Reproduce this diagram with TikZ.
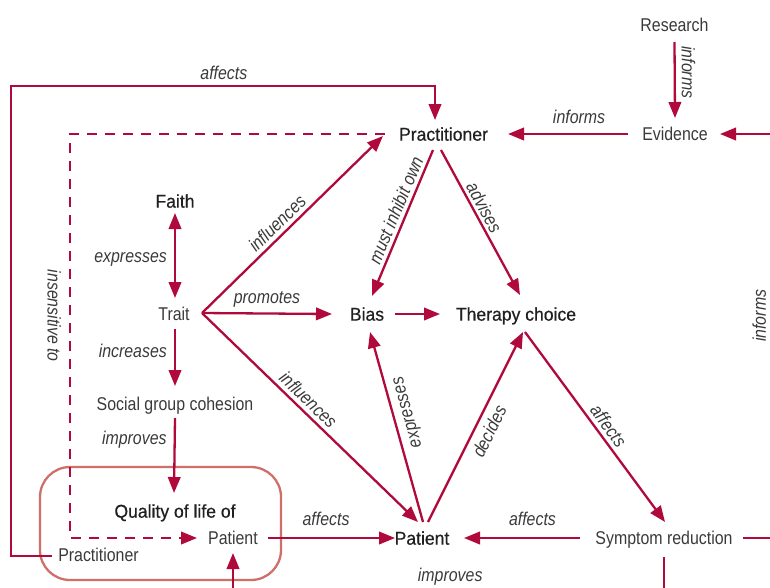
\documentclass[tikz,border=0pt]{standalone}
\usepackage{fontspec}
\setmainfont{Liberation Sans}[FakeStretch=0.86]
\newfontfamily\medfont{Liberation Sans}[FakeStretch=0.95,FakeBold=0.5]
\usetikzlibrary{arrows.meta,calc}
\definecolor{crim}{HTML}{B00A3C}
\definecolor{boxc}{HTML}{CF6F6B}
\definecolor{txtl}{HTML}{3A3A3A}
\definecolor{txtd}{HTML}{202020}
\begin{document}
\begin{tikzpicture}[x=1pt,y=-1pt,
  lt/.style={inner sep=0pt,text height=13.3pt,text depth=0pt,text=txtl,font=\fontsize{18.5}{20}\selectfont},
  md/.style={inner sep=0pt,text height=13.3pt,text depth=0pt,text=txtd,font=\medfont\fontsize{18.5}{20}\selectfont},
  lbl/.style={inner sep=0pt,text height=13.3pt,text depth=0pt,text=txtl,font=\fontsize{18.5}{20}\selectfont\itshape},
  conn/.style={draw=crim,line width=2.3pt,-{Triangle[length=16pt,width=12.5pt]}},
  dconn/.style={conn,dash pattern=on 10pt off 8pt},
  grp/.style={draw=boxc,line width=2.3pt,rounded corners=30pt,minimum width=241pt,minimum height=113pt,inner sep=0pt}
]
\clip (0,0) rectangle (770,587);
% group frame
\node[grp] (group) at (160.5,523.5) {};
% nodes
\node[lt] (research) at (674.5,25) {Research};
\node[lt] (evidence) at (675,134) {Evidence};
\node[md] (prac) at (443.5,134) {Practitioner};
\node[md] (faith) at (175,201) {Faith};
\node[lt] (trait) at (174,314) {Trait};
\node[md] (bias) at (367,314) {Bias};
\node[md] (therapy) at (516,314) {Therapy choice};
\node[lt] (social) at (175,404) {Social group cohesion};
\node[md] (qol) at (175,511) {Quality of life of};
\node[lt] (patbox) at (233,538) {Patient};
\node[lt] (practbl) at (98.5,555) {Practitioner};
\node[md] (patient) at (422,538) {Patient};
\node[lt] (symptom) at (664,538) {Symptom reduction};
\coordinate (rtop) at (782,134);
\coordinate (rbot) at (782,538);
\coordinate (lcorner) at (11,86);
\coordinate (dcorner) at (70,134);
\coordinate (dbot) at (70,538);
\coordinate (bbot) at (664,605);
% connectors
\draw[conn] ($(research)+(0,17)$) -- node[lbl,sloped,above=6pt,pos=0.4]{informs} ($(evidence)+(0,-16)$);
\draw[conn] ($(evidence)+(-47,0)$) -- node[lbl,above=9pt,pos=0.408]{informs} ($(prac)+(64.5,0)$);
\draw[conn] ($(symptom)+(79,0)$) -- (rbot) -- node[lbl,sloped,above=15pt,pos=0.55]{informs} (rtop) -- ($(evidence)+(45,0)$);
\draw[conn] ($(practbl)+(-46.5,1)$) -| (lcorner) -| node[lbl,above=5pt,pos=0.251]{affects} ($(prac)+(-8.5,-14)$);
\draw[dconn] ($(prac)+(-58.5,0)$) -- (dcorner) -- node[lbl,sloped,below=8pt,pos=0.45]{insensitive to} (dbot) -- ($(patbox)+(-36,0)$);
\draw[conn,{Triangle[length=16pt,width=12.5pt]}-{Triangle[length=16pt,width=12.5pt]}] ($(faith)+(0,12)$) -- node[lbl,left=7pt]{expresses} ($(trait)+(1,-16)$);
\draw[conn] ($(trait)+(1,15)$) -- node[lbl,left=7pt,pos=0.38]{increases} ($(social)+(0,-18)$);
\draw[conn] ($(social)+(0,14)$) -- node[lbl,left=7pt,pos=0.27]{improves} ($(qol)+(-1,-18)$);
\draw[conn] ($(trait)+(28,-1)$) -- node[lbl,sloped,above=4pt,pos=0.46]{influences} ($(prac)+(-60.5,2)$);
\draw[conn] ($(trait)+(28,-1)$) -- node[lbl,above=9pt,pos=0.5]{promotes} ($(bias)+(-35,0)$);
\draw[conn] ($(trait)+(28,-1)$) -- node[lbl,sloped,above=4pt,pos=0.455]{influences} ($(patient)+(-4,-16)$);
\draw[conn] ($(bias)+(28,0)$) -- ($(therapy)+(-76,0)$);
\draw[conn] ($(prac)+(-10.5,16)$) -- node[lbl,sloped,above=3.5pt,pos=0.44]{must inhibit own} ($(bias)+(5,-18)$);
\draw[conn] ($(prac)+(-2.5,16)$) -- node[lbl,sloped,above=3pt,pos=0.43]{advises} ($(therapy)+(4,-19)$);
\draw[conn] ($(patient)+(1,-16)$) -- ($(bias)+(3,18)$);
\node[lbl,rotate=105.6] (lexpr) at (405.5,413) {expresses};
\draw[conn] ($(patient)+(6,-16)$) -- node[lbl,sloped,below=6.3pt,pos=0.51]{decides} ($(therapy)+(7,18)$);
\draw[conn] ($(therapy)+(9,18)$) -- node[lbl,sloped,above=4pt,pos=0.53]{affects} ($(symptom)+(1,-16)$);
\draw[conn] ($(symptom)+(-84,0)$) -- node[lbl,above=11pt,pos=0.41]{affects} ($(patient)+(42,0)$);
\draw[conn] ($(patbox)+(35,0)$) -- node[lbl,above=11pt,pos=0.457]{affects} ($(patient)+(-27,0)$);
\draw[conn] ($(symptom)+(0,19)$) -- (bbot) -| node[lbl,above=22pt,pos=0.248]{improves} ($(patbox)+(0,15)$);
\end{tikzpicture}
\end{document}
